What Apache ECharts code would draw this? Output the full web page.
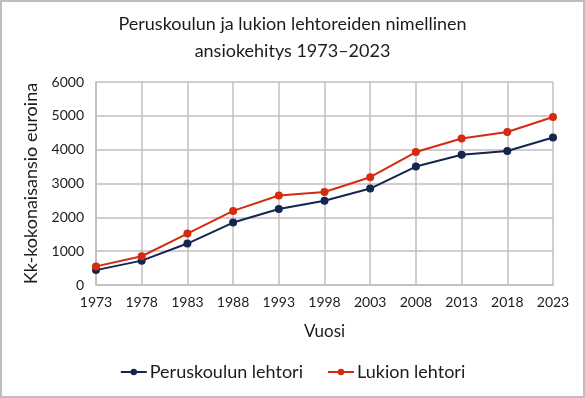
<!DOCTYPE html>
<html>
<head>
<meta charset="utf-8">
<script src="https://cdn.jsdelivr.net/npm/echarts@6/dist/echarts.min.js"></script>
<style>
html,body{margin:0;padding:0;background:#fff;}
#chart{width:585px;height:398px;box-sizing:border-box;border:2px solid #c3bbbf;}
</style>
</head>
<body>
<div id="chart"></div>
<script>
var years = ['1973','1978','1983','1988','1993','1998','2003','2008','2013','2018','2023'];
var peruskoulu = [440,720,1225,1845,2245,2490,2850,3500,3850,3960,4360];
var lukio = [550,850,1520,2190,2645,2750,3185,3930,4330,4520,4965];
var seriesNames = ['Peruskoulun lehtori','Lukion lehtori'];

var font = 'Lato, "Noto Sans", sans-serif';
var gridColor = '#c5bbc1';
var textColor = '#1e1a1e';

var myChart = echarts.init(document.getElementById('chart'));
var option = {
	textStyle:{fontFamily:font},
	title:{
		text:'Peruskoulun ja lukion lehtoreiden nimellinen\nansiokehitys 1973\u20132023',
		left:'center',
		top:4,
		textStyle:{fontSize:18,fontWeight:'normal',color:textColor,lineHeight:27,fontFamily:font}
	},
	legend:{
		data:seriesNames,
		bottom:10,
		itemWidth:26,
		itemHeight:8,
		itemGap:24,
		textStyle:{fontSize:18,color:textColor,fontFamily:font,padding:[0,0,0,-2]}
	},
	grid:{left:94,right:30,top:80,bottom:111},
	xAxis:{
		type:'category',
		data:years,
		boundaryGap:false,
		name:'Vuosi',
		nameLocation:'middle',
		nameGap:38,
		nameTextStyle:{fontSize:17,color:textColor},
		axisLine:{lineStyle:{color:gridColor,width:1.5}},
		axisTick:{show:false},
		axisLabel:{fontSize:14,color:textColor,margin:10},
		splitLine:{show:true,lineStyle:{color:gridColor,width:1.5}}
	},
	yAxis:{
		type:'value',
		min:0,
		max:6000,
		interval:1000,
		name:'Kk-kokonaisansio euroina',
		nameLocation:'middle',
		nameGap:56,
		nameTextStyle:{fontSize:18,color:textColor},
		axisLine:{show:true,lineStyle:{color:gridColor,width:1.5}},
		axisTick:{show:false},
		axisLabel:{fontSize:14,color:textColor,margin:12,formatter:function(v){return String(v);}},
		splitLine:{show:true,lineStyle:{color:gridColor,width:1.5}}
	},
	series:[
		{name:seriesNames[0],type:'line',data:peruskoulu,symbol:'circle',symbolSize:8,
			itemStyle:{color:'#14254f'},lineStyle:{width:2,color:'#14254f'}},
		{name:seriesNames[1],type:'line',data:lukio,symbol:'circle',symbolSize:8,
			itemStyle:{color:'#d52b10'},lineStyle:{width:2,color:'#d52b10'}}
	]
};
myChart.setOption(option);
</script>
</body>
</html>
